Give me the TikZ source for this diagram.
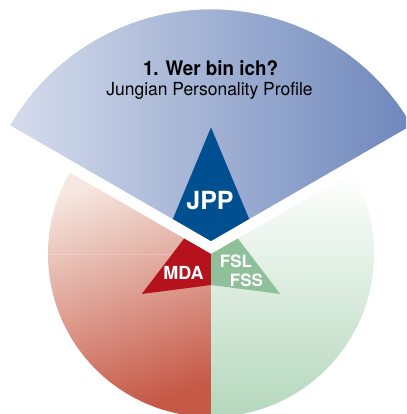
\documentclass[tikz,border=0pt]{standalone}
\usepackage{fontspec}
\setmainfont{TeX Gyre Heros}
\newfontfamily\titlefont[FakeStretch=0.94]{TeX Gyre Heros}
\newfontfamily\subfont[FakeStretch=0.97]{TeX Gyre Heros}
\usepackage{tikz}
\usetikzlibrary{calc}
\definecolor{jppblue}{RGB}{0,79,145}
\definecolor{mdared}{RGB}{181,18,30}
\definecolor{fslgreen}{RGB}{143,192,154}
\definecolor{blueleft}{RGB}{213,220,236}
\definecolor{blueright}{RGB}{110,135,187}
\definecolor{redlight}{RGB}{246,232,225}
\definecolor{reddark}{RGB}{198,88,70}
\definecolor{greenlight}{RGB}{236,244,237}
\definecolor{greendark}{RGB}{180,215,188}
\tikzset{piece label/.style={anchor=base, text=white, font=\bfseries\fontsize{#1}{#1}\selectfont}}

\begin{document}
\begin{tikzpicture}[x=1pt,y=1pt]
% Define the parameters
\pgfmathsetmacro{\R}{163} % radius of lower circle
\pgfmathsetmacro{\s}{1.42} % scale of upper piece
\pgfmathsetmacro{\Rt}{\R*\s}
\pgfmathsetmacro{\tl}{80} % tip of inner kite
\pgfmathsetmacro{\tm}{31} % side of inner kite
\coordinate (C) at (211,160);
\coordinate (T) at (211,173);

\useasboundingbox (0,0) rectangle (406,414);
\clip (0,0) rectangle (406,414);

% Lower sectors
\shade[top color=redlight, bottom color=reddark, shading angle=20] (C) -- ++(150:\R) arc[start angle=150, end angle=270, radius=\R] -- cycle;
\shade[top color=white, middle color=greenlight, bottom color=greendark] (C) -- ++(270:\R) arc[start angle=270, end angle=390, radius=\R] -- cycle;
\draw[white, opacity=0.2, line width=0.6] (C) -- ++(180:\R);

% Lower kites
\fill[mdared] (C) -- ($(C)+(150:\tm)$) -- ($(C)+(210:\tl)$) -- ($(C)+(270:\tm)$) -- cycle;
\fill[fslgreen] (C) -- ($(C)+(30:\tm)$) -- ($(C)+(330:\tl)$) -- ($(C)+(270:\tm)$) -- cycle;

% Shadow of upper sector
\foreach \i in {1,...,8}
  \fill[black, opacity=0.03, yshift=-\i] (T) -- ++(30:\Rt) arc[start angle=30, end angle=150, radius=\Rt] -- cycle;

% Upper sector
\shade[left color=blueleft, right color=blueright] (T) -- ++(30:\Rt) arc[start angle=30, end angle=150, radius=\Rt] -- cycle;
\fill[jppblue] (T) -- ($(T)+(30:\tm*\s)$) -- ($(T)+(90:\tl*\s)$) -- ($(T)+(150:\tm*\s)$) -- cycle;

% Texts
\node[anchor=base, font=\titlefont\bfseries\fontsize{20}{20}\selectfont] (title) at (210.5,338) {1. Wer bin ich?};
\node[anchor=base, font=\subfont\fontsize{18}{18}\selectfont] (subtitle) at (209.5,318) {Jungian Personality Profile};
\node[piece label=25] (jpp) at (210,204) {JPP};
\node[piece label=18] (mda) at (183.5,134) {MDA};
\node[piece label=17] (fsl) at (236,146) {FSL};
\node[piece label=17] (fss) at (246.5,127) {FSS};

\end{tikzpicture}
\end{document}
